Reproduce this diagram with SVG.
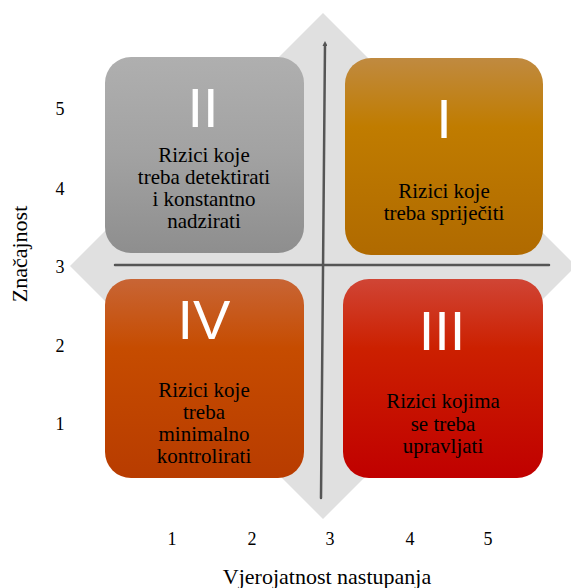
<svg xmlns="http://www.w3.org/2000/svg" width="571" height="588" viewBox="0 0 571 588">
<style>
.num{font-family:'Liberation Serif','Times New Roman',serif;font-size:18px;fill:#000;text-anchor:middle}
.ax{font-family:'Liberation Serif','Times New Roman',serif;font-size:22px;fill:#000;text-anchor:middle}
.lbl{font-family:'Liberation Serif','Times New Roman',serif;font-size:21px;fill:#000;text-anchor:middle}
.rom{font-family:'Liberation Sans',Arial,sans-serif;font-size:56px;fill:#fff;text-anchor:middle}
.box{stroke:none}
.axis{stroke:#555;stroke-width:2.5;fill:none;stroke-linecap:round}
</style>
<defs>
<linearGradient id="gII" x1="0" y1="0" x2="0" y2="1"><stop offset="0" stop-color="#afafaf"/><stop offset="0.5" stop-color="#a2a2a2"/><stop offset="1" stop-color="#8e8e8e"/></linearGradient>
<linearGradient id="gI" x1="0" y1="0" x2="0" y2="1"><stop offset="0" stop-color="#c08a40"/><stop offset="0.35" stop-color="#c07c00"/><stop offset="1" stop-color="#b06a00"/></linearGradient>
<linearGradient id="gIV" x1="0" y1="0" x2="0" y2="1"><stop offset="0" stop-color="#c86535"/><stop offset="0.35" stop-color="#c64c00"/><stop offset="1" stop-color="#b83c00"/></linearGradient>
<linearGradient id="gIII" x1="0" y1="0" x2="0" y2="1"><stop offset="0" stop-color="#d04535"/><stop offset="0.35" stop-color="#cc2000"/><stop offset="1" stop-color="#c00000"/></linearGradient>
<marker id="arr" markerWidth="5" markerHeight="5" refX="2" refY="2.5" orient="auto" markerUnits="userSpaceOnUse"><path d="M0,0 L5,2.5 L0,5 z" fill="#555"/></marker>
</defs>
<g id="background">
<polygon points="323,13 576,266 323,519 70,266" fill="#e0e0e0"/>
</g>
<g id="quadrant-II">
<rect class="box" x="105" y="57" width="199" height="196" rx="26" fill="url(#gII)"/>
<text class="rom" x="203" y="127">II</text>
<text class="lbl" x="204" y="162">Rizici koje</text>
<text class="lbl" x="204" y="184">treba detektirati</text>
<text class="lbl" x="204" y="206">i konstantno</text>
<text class="lbl" x="204" y="228">nadzirati</text>
</g>
<g id="quadrant-I">
<rect class="box" x="345" y="58" width="198" height="197" rx="26" fill="url(#gI)"/>
<text class="rom" x="444" y="138">I</text>
<text class="lbl" x="444" y="198">Rizici koje</text>
<text class="lbl" x="444" y="220">treba spriječiti</text>
</g>
<g id="quadrant-IV">
<rect class="box" x="105" y="279" width="199" height="199" rx="26" fill="url(#gIV)"/>
<text class="rom" x="204" y="339">IV</text>
<text class="lbl" x="204" y="397">Rizici koje</text>
<text class="lbl" x="204" y="419">treba</text>
<text class="lbl" x="204" y="441">minimalno</text>
<text class="lbl" x="204" y="463">kontrolirati</text>
</g>
<g id="quadrant-III">
<rect class="box" x="343" y="279" width="200" height="199" rx="26" fill="url(#gIII)"/>
<text class="rom" x="442" y="350">III</text>
<text class="lbl" x="443" y="408">Rizici kojima</text>
<text class="lbl" x="443" y="431">se treba</text>
<text class="lbl" x="443" y="453">upravljati</text>
</g>
<g id="connectors">
<line class="axis" x1="115" y1="265" x2="549" y2="265"/>
<line class="axis" x1="321" y1="498" x2="325" y2="44" marker-end="url(#arr)"/>
</g>
<g id="axis-labels">
<text class="num" x="60" y="115">5</text>
<text class="num" x="60" y="195">4</text>
<text class="num" x="60" y="273">3</text>
<text class="num" x="60" y="352">2</text>
<text class="num" x="60" y="430">1</text>
<text class="num" x="172" y="545">1</text>
<text class="num" x="252" y="545">2</text>
<text class="num" x="330" y="545">3</text>
<text class="num" x="410" y="545">4</text>
<text class="num" x="488" y="545">5</text>
<text class="ax" x="327" y="584">Vjerojatnost nastupanja</text>
<text class="ax" transform="translate(27,254) rotate(-90)">Značajnost</text>
</g>
</svg>
